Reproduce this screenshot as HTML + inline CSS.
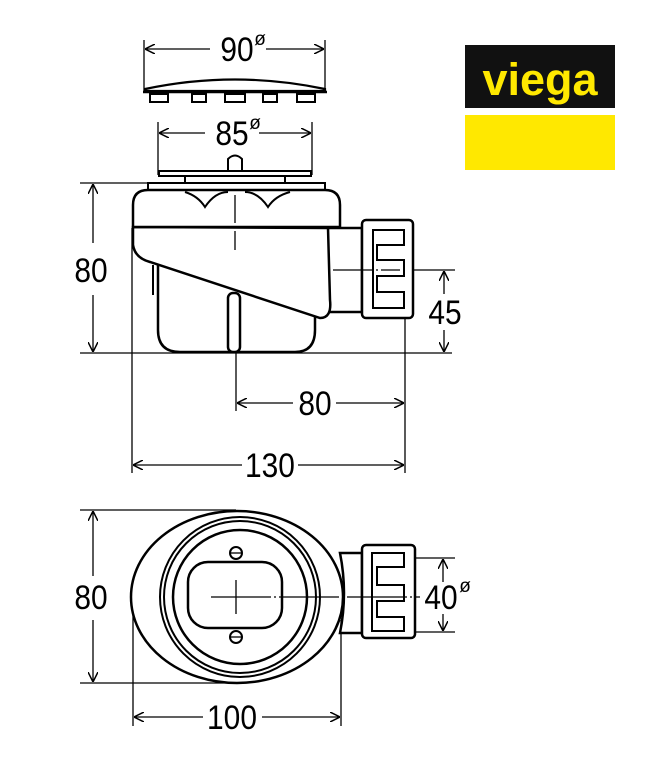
<!DOCTYPE html>
<html><head><meta charset="utf-8"><style>
html,body{margin:0;padding:0;background:#fff;width:669px;height:761px;overflow:hidden}
text{font-family:"Liberation Sans",sans-serif}
</style></head><body>
<svg width="669" height="761" viewBox="0 0 669 761" xmlns="http://www.w3.org/2000/svg">
<defs>
<marker id="a" viewBox="0 0 10 10" refX="10" refY="5" markerWidth="10" markerHeight="10" orient="auto-start-reverse" markerUnits="userSpaceOnUse"><path d="M0,0 L10,5 L0,10" fill="none" stroke="#000" stroke-width="1.5"/></marker>
</defs>
<g fill="none" stroke="#000" stroke-width="1.3">
<line x1="144" y1="40" x2="144" y2="92"/><line x1="325" y1="40" x2="325" y2="92"/>
<line x1="145" y1="49" x2="210" y2="49" marker-start="url(#a)"/><line x1="266" y1="49" x2="324" y2="49" marker-end="url(#a)"/>
<line x1="158" y1="122" x2="158" y2="175"/><line x1="312" y1="122" x2="312" y2="175"/>
<line x1="159" y1="133" x2="205" y2="133" marker-start="url(#a)"/><line x1="259" y1="133" x2="311" y2="133" marker-end="url(#a)"/>
<line x1="80" y1="183" x2="148" y2="183"/>
<line x1="80" y1="353" x2="452" y2="353"/>
<line x1="93" y1="184" x2="93" y2="243" marker-start="url(#a)"/><line x1="93" y1="295" x2="93" y2="352" marker-end="url(#a)"/>
<line x1="340" y1="270" x2="455" y2="270"/>
<line x1="444" y1="271" x2="444" y2="294" marker-start="url(#a)"/><line x1="444" y1="330" x2="444" y2="352" marker-end="url(#a)"/>
<line x1="132" y1="228" x2="132" y2="473"/>
<line x1="405" y1="318" x2="405" y2="473"/>
<line x1="236" y1="352" x2="236" y2="411"/>
<line x1="237" y1="403" x2="293" y2="403" marker-start="url(#a)"/><line x1="336" y1="403" x2="404" y2="403" marker-end="url(#a)"/>
<line x1="133" y1="465" x2="242" y2="465" marker-start="url(#a)"/><line x1="298" y1="465" x2="404" y2="465" marker-end="url(#a)"/>
<line x1="80" y1="510" x2="236" y2="510"/><line x1="80" y1="683" x2="236" y2="683"/>
<line x1="93" y1="511" x2="93" y2="576" marker-start="url(#a)"/><line x1="93" y1="620" x2="93" y2="682" marker-end="url(#a)"/>
<line x1="415" y1="558" x2="455" y2="558"/><line x1="415" y1="632" x2="455" y2="632"/>
<line x1="443" y1="559" x2="443" y2="582" marker-start="url(#a)"/><line x1="443" y1="614" x2="443" y2="631" marker-end="url(#a)"/>
<line x1="133" y1="615" x2="133" y2="726"/><line x1="341" y1="620" x2="341" y2="726"/>
<line x1="134" y1="717" x2="203" y2="717" marker-start="url(#a)"/><line x1="262" y1="717" x2="340" y2="717" marker-end="url(#a)"/>
</g>
<g fill="#fff" stroke="#000" stroke-width="2.5">
<path d="M145,89 Q235,70 325,89 L325,91 L145,91 Z" stroke-width="2.2"/>
<line x1="143" y1="92" x2="327" y2="92"/>
<rect x="150" y="94" width="18" height="8" stroke-width="2"/><rect x="192" y="94" width="14" height="8" stroke-width="2"/>
<rect x="225" y="94" width="20" height="8" stroke-width="2"/><rect x="263" y="94" width="14" height="8" stroke-width="2"/>
<rect x="297" y="94" width="18" height="8" stroke-width="2"/>
<rect x="159" y="171" width="152" height="5" stroke-width="2"/>
<path d="M228,170 L228,159 Q235,152 242,159 L242,170" stroke-width="2"/>
<line x1="185" y1="176" x2="185" y2="183" stroke-width="2"/><line x1="285" y1="176" x2="285" y2="183" stroke-width="2"/>
<rect x="148" y="183" width="177" height="7" stroke-width="2"/>
<path d="M325,228 L362,228 L362,312 L327,312 Q315,270 325,228 Z"/>
<rect x="362" y="220" width="51" height="98" rx="4"/>
<path d="M373,230 L404,230 L404,245 L377,245 L377,260 L404,260 L404,276 L377,276 L377,292 L404,292 L404,308 L373,308 Z" stroke-width="2"/>
<path d="M158,258 L158,330 Q158,352 180,352 L295,352 Q315,352 315,330 L315,300 Z"/>
<rect x="228" y="293" width="12" height="59" rx="5"/>
<line x1="153" y1="265" x2="153" y2="295" stroke-width="2"/>
<path d="M133,227 L133,245 Q135,258 150,262 L320,318 Q332,318 330,300 L328,228 Z"/>
<path d="M133,227 L133,205 Q133,190 148,190 L325,190 Q340,190 340,205 L340,227 Z"/>
<path d="M185,192 Q198,196 205,207 Q215,192 228,192 M245,192 Q258,192 268,207 Q275,196 290,192" stroke-width="2" fill="none"/>
<path d="M340,553 L362,553 L362,633 L340,633 Q348,593 340,553 Z"/>
<rect x="362" y="545" width="53" height="93" rx="4"/>
<path d="M372,553 L404,553 L404,567 L377,567 L377,585 L404,585 L404,601 L377,601 L377,617 L404,617 L404,631 L372,631 Z" stroke-width="2"/>
<ellipse cx="237" cy="597" rx="106" ry="86"/>
<circle cx="240" cy="597" r="80" stroke-width="2"/>
<circle cx="240" cy="597" r="76" stroke-width="2"/>
<circle cx="240" cy="597" r="67"/>
<rect x="188" y="562" width="94" height="66" rx="20"/>
<circle cx="236" cy="553" r="6" stroke-width="2"/><circle cx="236" cy="637" r="6" stroke-width="2"/>
</g>
<g stroke="#000" stroke-width="1.3">
<line x1="230" y1="553" x2="242" y2="553"/><line x1="230" y1="637" x2="242" y2="637"/>
<line x1="235" y1="195" x2="235" y2="250" stroke-dasharray="28,3,2,3"/>
<line x1="333" y1="270" x2="400" y2="270" stroke-dasharray="40,3,2,3"/>
<line x1="211" y1="597" x2="420" y2="597" stroke-dasharray="60,3,2,3"/>
<line x1="236" y1="580" x2="236" y2="614"/>
</g>
<g font-size="34" fill="#000" text-anchor="middle">
<text x="237" y="61" transform="translate(237 0) scale(0.88 1) translate(-237 0)">90</text>
<text x="260" y="45" font-size="19">ø</text>
<text x="232" y="145" transform="translate(232 0) scale(0.88 1) translate(-232 0)">85</text>
<text x="255" y="129" font-size="19">ø</text>
<text x="91" y="282" transform="translate(91 0) scale(0.88 1) translate(-91 0)">80</text>
<text x="445" y="324" transform="translate(445 0) scale(0.88 1) translate(-445 0)">45</text>
<text x="315" y="415" transform="translate(315 0) scale(0.88 1) translate(-315 0)">80</text>
<text x="270" y="477" transform="translate(270 0) scale(0.88 1) translate(-270 0)">130</text>
<text x="91" y="609" transform="translate(91 0) scale(0.88 1) translate(-91 0)">80</text>
<text x="441" y="609" transform="translate(441 0) scale(0.88 1) translate(-441 0)">40</text>
<text x="465" y="592" font-size="19">ø</text>
<text x="232" y="729" transform="translate(232 0) scale(0.88 1) translate(-232 0)">100</text>
</g>
<rect x="465" y="45" width="150" height="63" fill="#111"/>
<rect x="465" y="115" width="150" height="55" fill="#ffe800"/>
<text x="540" y="95" font-size="45" font-weight="bold" fill="#ffe800" text-anchor="middle">viega</text>
</svg>
</body></html>
